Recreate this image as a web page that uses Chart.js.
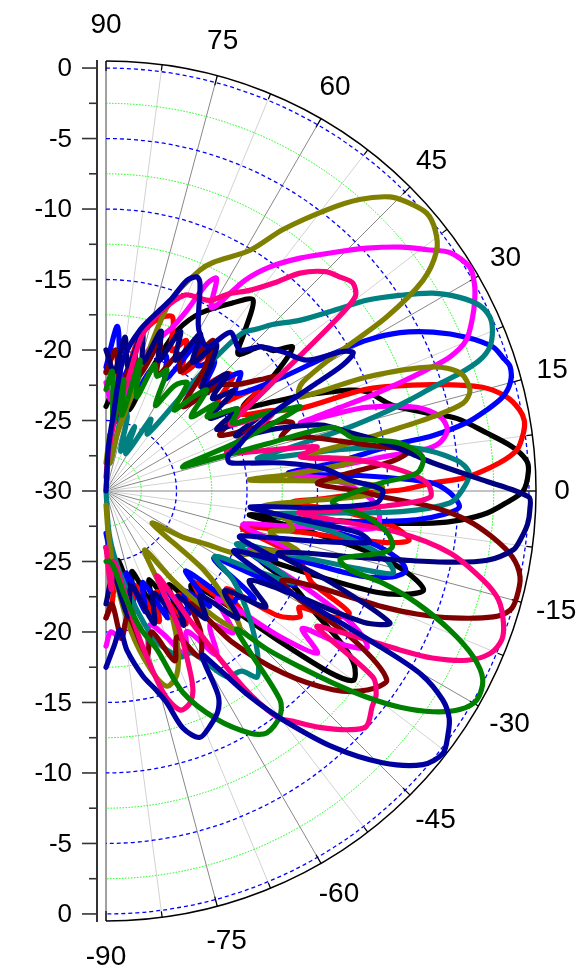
<!DOCTYPE html>
<html>
<head>
<meta charset="utf-8">
<style>
  html, body { margin: 0; padding: 0; background: #fff; }
</style>
<script src="https://cdn.jsdelivr.net/npm/chart.js@4.4.1/dist/chart.umd.min.js"></script>
</head>
<body>
<canvas id="myChart" width="588" height="970"></canvas>
<script>
// angle tick labels on the outer arc
const angleLabels = [90, 75, 60, 45, 30, 15, 0, -15, -30, -45, -60, -75, -90];

// each pattern: angles (deg) and gain (dB)
const angBlack = [90, 86, 82, 78, 74, 71, 68.7, 66, 62, 56, 52.4, 49, 46, 43, 40, 37.6, 34, 31.5, 28, 26, 22.5, 20.8, 16.7, 13.7, 11.7, 8.7, 6.2, 4.2, 2.6, 0, -1.7, -3.3, -4.7, -5.6, -6.5, -7.2, -8.2, -9.5, -11, -13, -15, -17.3, -19, -20.5, -22, -24, -27, -30, -33, -35, -37.4, -39, -41, -44, -48, -52, -56, -60, -64, -68, -72, -76, -80, -84, -90];
const dbBlack = [-24, -23, -25, -22.5, -24, -22, -20, -17.5, -15.7, -13.9, -12.9, -15, -16.5, -15, -14.5, -13.3, -16, -18.6, -16.5, -14.6, -11.3, -10.2, -8.8, -6.6, -4.6, -2.7, -1, -0.1, 0, -0.4, -1.6, -2.9, -4.8, -6.7, -9.9, -13, -16, -19.7, -16, -11, -8, -6.4, -7.5, -9.5, -14, -18, -15, -13, -10, -8.5, -7.9, -9.5, -14, -19, -21, -19, -22, -20, -23, -21, -24, -22, -25, -23, -26];

const angRed = [90, 86, 82, 78, 73.4, 69, 65, 61.8, 57, 52.8, 48, 44, 41.9, 38, 34, 30, 26, 23, 21.3, 18, 15.4, 13.2, 11.1, 9.5, 7.9, 5.7, 4.1, 2.2, 1.4, 0.2, -0.4, -2, -3.4, -5, -7, -9.2, -10.5, -12, -15, -18, -21, -24, -26.6, -29, -31, -33, -36, -39, -42, -46, -50, -55, -59, -63, -68, -73, -78, -83, -87, -90];
const dbRed = [-21.5, -20, -23, -19, -17.3, -16.8, -19, -17.9, -20, -17.4, -20, -18, -17.9, -20, -17, -19, -17, -15, -10.1, -5.6, -2.3, -0.8, -0.1, 0.1, -0.1, -0.7, -2, -4.4, -6.8, -9.1, -11.5, -14.5, -16.7, -13, -9.5, -8.2, -10, -16, -20, -17, -15, -14, -10.7, -11.5, -14, -13.6, -15, -19, -17, -21, -19, -21, -19, -22, -20, -23, -21, -24, -22, -21];

const angBlue = [90, 86, 82, 78, 74, 70, 66, 62, 58, 54, 50, 46, 41.4, 37, 33, 31.3, 30, 28.3, 25.9, 23.1, 20.4, 18.6, 17.1, 15, 13.3, 12, 10.7, 9.6, 9.2, 8.3, 7, 5.5, 3.5, 1.5, -0.3, -2.6, -4, -5.3, -7, -9, -11, -13.2, -15, -16.7, -18.5, -20, -23, -26, -29, -32, -36, -39, -41.4, -45, -48, -52, -56, -60, -64, -68, -72, -76, -80, -85, -90];
const dbBlue = [-21.2, -18.3, -22, -20, -23, -21, -19.5, -21, -17.4, -19, -18, -20, -17.3, -18.5, -15.4, -11.5, -8.6, -6.3, -4.2, -2.2, -0.7, -0.3, 0, -0.3, -1.1, -2.4, -4, -6.5, -8.9, -11.3, -13.8, -17, -12, -7, -5.6, -4.9, -6, -7.9, -12, -16, -11, -8.6, -8, -8.8, -11, -16, -19, -15, -17, -21, -17, -18, -18, -22, -19, -21, -19.5, -22, -20, -23, -21, -24, -22, -25, -27];

const angMagenta = [90, 87, 84, 80, 76, 72, 68, 65.9, 64, 62.5, 60, 56.6, 53.8, 50.2, 46.7, 42.9, 39.5, 36.9, 34.7, 31.6, 29.4, 27.5, 25.4, 22.7, 21.3, 20.7, 20.2, 19.8, 19.6, 19.3, 18.6, 17.8, 15.1, 12.5, 10.1, 8.2, 7.4, 7, 6, 5, 3, 0, -3.4, -7.6, -9, -11, -14, -18, -22, -26, -28.5, -30.9, -33, -35, -37.5, -40, -44, -48, -52, -56, -60, -64, -68, -72, -76, -80, -84, -88, -90];
const dbMagenta = [-22.3, -23.5, -21, -24, -21, -19, -17.5, -16, -13.6, -13, -15, -12.1, -10.3, -8.5, -6.8, -4.7, -2.8, -1.5, -0.3, 0.3, 0, -0.5, -1.2, -2.3, -3.8, -5.7, -7.8, -10, -12.9, -15.4, -13, -10.6, -7.2, -5.7, -5.4, -6.1, -7.3, -10.2, -13.8, -17, -14, -12, -10.7, -10.6, -13, -17, -20, -16, -19, -14, -10, -8.4, -10, -13, -11.1, -14, -19, -16.5, -18, -16, -18.5, -17, -19, -20, -18, -21, -19.5, -20, -19];

const angOlive = [90, 86, 82, 79, 76, 74, 72.5, 71, 67, 64.9, 59.1, 55.9, 51.8, 49, 46, 43.8, 40.9, 38.4, 36, 33.6, 31.8, 30.6, 29, 27.5, 25.8, 23.6, 20.8, 18.4, 15.5, 13.8, 12.8, 12, 11.1, 10, 8.5, 7, 5.3, 4.4, 2.5, 0.8, -1, -3, -6, -9, -11.8, -14, -17.7, -21.3, -24, -26, -28, -31, -35, -39, -43, -46, -49, -53, -57, -61, -65, -69, -72.7, -76, -80, -84, -87, -90];
const dbOlive = [-28, -26, -28, -26, -24, -22, -18, -15.5, -13, -12.1, -10.1, -7.6, -4.6, -2.6, -1, -0.4, 0.1, -0.2, -1, -3, -6.6, -11.3, -14, -14.6, -14.7, -9.8, -5.2, -3.5, -3.2, -3.9, -6.2, -9.2, -12.4, -15.5, -14, -11.9, -16.2, -19.8, -14, -10.4, -11.5, -16, -19, -17, -16.5, -18, -15.6, -18.5, -19, -20, -22, -23.6, -26, -21, -18, -16.3, -18, -22, -25, -21, -18, -16, -15.5, -17, -20, -24, -27, -29];

const angTeal = [90, 86, 82, 78, 74, 70, 66, 62, 58, 54, 51.5, 50.5, 49.2, 47, 45, 41.4, 38, 36.2, 33.7, 31.2, 28.7, 26.4, 24.4, 22.6, 20.6, 19.3, 18.4, 17.6, 16.7, 15.7, 14.7, 13.5, 12, 10, 8, 5, 2.8, 0.2, -2, -4, -6, -8, -10, -13, -15.9, -17, -19, -22, -24.5, -26.2, -28, -31, -35, -40, -45, -49, -51, -53, -57, -62, -66, -72, -78, -82, -86, -90];
const dbTeal = [-30, -26, -28, -24, -24.5, -27, -25, -27, -24, -25, -21, -17.5, -15.2, -14.3, -13.3, -11.7, -9, -7.1, -5, -2.9, -1.4, -0.4, -0.1, -0.3, -0.9, -1.9, -3.5, -5.7, -7.5, -9.6, -12.1, -16, -19, -13, -8, -5, -4.2, -4.7, -5.6, -9, -15, -18, -14, -10, -8.8, -11, -16, -20, -17, -15.2, -18, -21, -19, -17, -15, -13.5, -13, -14, -14.3, -17, -17.1, -19, -22.8, -25, -27, -30];

const angNavy = [90, 86, 83, 80, 77, 74, 71, 68, 65, 62, 59, 56, 53, 50, 47, 44, 41, 38, 35, 32, 29, 26, 23, 20, 17, 14, 11.5, 9.2, 7, 4.9, 1.7, -0.8, -2.6, -4.5, -6.7, -8.2, -10.3, -11.7, -13.2, -15.1, -17.7, -20, -22, -24.9, -27, -29, -32, -36, -40, -44, -48, -52, -56, -60, -65, -70, -75, -80, -85, -90];
const dbNavy = [-20, -21.5, -19, -21, -18.5, -20.5, -18, -20, -17.5, -19.5, -17, -19, -17, -18.5, -20, -18, -20, -18.5, -21, -19, -21, -18, -20, -17, -14, -12.5, -11, -9.6, -8.2, -6.7, -3.3, 0, 0.1, 0, -0.4, -0.8, -2.5, -5.1, -8.6, -12.1, -15.6, -17, -13, -7.8, -9.5, -15, -18, -16, -19, -17, -20, -18.5, -21, -19, -22, -20, -23, -21, -24, -22];

const angWine = [90, 86, 82, 78, 74, 70, 66, 62, 58, 54.7, 51, 47.5, 43, 39, 35.8, 33.7, 30, 26, 22, 20, 17, 15, 12, 9, 7.7, 6, 4, 2, 0, -1.2, -2.8, -4.6, -6.8, -9.2, -11.7, -14.5, -16.4, -18, -20.1, -21.6, -22.7, -23.5, -24.5, -27, -29.3, -31, -33.9, -37.3, -41.2, -45.8, -50.1, -53, -56, -60.5, -64, -68, -72, -76, -80, -84, -87, -90];
const dbWine = [-21.6, -20, -22.5, -20.5, -21.5, -18.8, -21, -19, -20, -16.9, -19, -21.9, -19, -18, -16.5, -15.4, -19, -21, -17, -15.9, -17, -15.2, -13, -10, -8.2, -9.5, -13, -15, -12, -10.4, -6.8, -4.3, -2.4, -0.8, 0, 0.1, -0.1, -1.1, -3.8, -6.3, -8.7, -11.1, -13.6, -16, -14.2, -9.5, -6, -6.7, -8.6, -12, -16, -20, -18, -16.5, -18.5, -17, -19.5, -18, -21, -19.5, -22, -21];

const angPink = [90, 86, 82, 79, 76.8, 72.5, 68, 64, 61.4, 58, 54.4, 51, 48.3, 45, 42.4, 40.1, 37.9, 36.5, 35, 33, 31, 28, 25, 22, 18, 14, 11.8, 10, 7, 4, 1.4, -1.1, -3, -5, -6.5, -8.1, -10.2, -13.3, -15.5, -18.3, -20.6, -22.9, -25.1, -27.1, -28.4, -29.7, -31.5, -32.8, -34.9, -37, -39, -42.1, -44.4, -47.9, -51, -52.9, -55, -57, -59, -62, -64.9, -66.4, -68.5, -71.3, -74, -77, -80, -84, -87, -90];
const dbPink = [-29, -27, -24, -22.2, -18.5, -16.5, -15, -14.8, -14.6, -13.5, -12.5, -11, -9.3, -8, -7.5, -7.1, -7.6, -10, -13, -16, -18, -20, -17, -19, -21, -18, -14.7, -16, -12, -9, -7.2, -7, -10, -14, -16.2, -9, -5.2, -2.5, -1.1, -0.3, 0, -0.4, -1.7, -4, -6.3, -8.7, -11.1, -12.2, -6.9, -6, -5.7, -5.1, -5.8, -7.4, -9, -9.9, -13, -19, -23, -19, -16, -14.6, -13.8, -13.6, -15, -19, -23, -25, -23, -26];

const angGreen = [90, 87, 84, 81, 78, 75.5, 72, 69, 66, 63.2, 60, 57, 53.1, 50, 47.2, 45, 41, 38.4, 36.2, 32, 28.2, 26, 24.6, 23.4, 20.5, 18.5, 17.3, 16.3, 15.7, 12, 9.3, 6.1, 3.3, 1.7, -0.5, -3, -5.7, -8.5, -11, -12.6, -15.1, -16.4, -17.9, -18.4, -19.8, -22, -24.3, -26.6, -29.4, -31.7, -34, -36.3, -38.3, -40.2, -42.2, -44.5, -46.5, -48, -50.2, -52.4, -56.4, -59.2, -64.1, -69.1, -72.2, -76, -80, -84, -87, -90];
const dbGreen = [-22.8, -21.5, -25, -22, -24.5, -20.4, -23, -20.4, -21.1, -20.4, -23, -21.1, -20.4, -22.5, -20.9, -19.9, -22, -20, -21.1, -19, -19.8, -17.5, -16.2, -15, -20, -24, -24.3, -18, -13.3, -12, -8.9, -7.4, -7.9, -10.4, -12.5, -13.9, -11.4, -9.8, -9.3, -9.9, -12.1, -12.7, -11.8, -9.3, -6.6, -3.7, -1.4, -0.1, 0.2, -0.5, -2, -4.1, -6.4, -8.9, -11.4, -14, -16.5, -15, -10.7, -9.8, -9.4, -10, -12, -14.7, -18.2, -20, -22.5, -24.5, -25, -25];

const angRoyal = [90, 87, 84.6, 82.6, 78, 73.4, 71, 69, 67, 65.7, 63, 61, 59.2, 54.9, 51.9, 46.5, 43, 38, 33.1, 30.5, 29.2, 28, 27, 25, 22, 19, 16, 13, 11, 9, 6, 2.6, 0.2, -2.5, -4.5, -6.3, -8, -9.4, -11, -13, -16, -19, -22, -25, -27.5, -29, -29.3, -29.6, -30.2, -31.8, -33.5, -35.5, -37.9, -40.8, -44.5, -48.4, -52.3, -55, -57.8, -59.7, -61.2, -63, -66, -69.2, -72, -74, -76, -78.7, -82.5, -84.2, -87, -90];
const dbRoyal = [-30, -27, -24.7, -20.6, -18.3, -16.6, -15.5, -14, -13.5, -13.8, -15.5, -16.5, -17, -17.5, -15.7, -16.2, -15, -14, -13, -10.5, -9.9, -11, -13.5, -17, -19, -20, -21, -21, -19.6, -17.3, -14.5, -12.7, -10.4, -10.8, -15, -19.7, -17, -11.8, -11, -14, -18, -20, -17, -20, -18, -14, -11, -7.5, -4.1, -1.9, -0.8, -0.2, 0.3, -0.3, -2.5, -5.7, -9.5, -12.2, -15.2, -16.5, -13.5, -12.5, -11.8, -11.3, -12.3, -14.4, -15.5, -16.6, -18.6, -20.1, -19, -17.5];

const FONT = '"Liberation Sans", Arial, sans-serif';
Chart.defaults.font.family = FONT;

// polar (angle, dB) -> x/y in dB units above the -30 dB centre
function toPoints(ang, db) {
  return ang.map(function (a, i) {
    const r = Math.max(db[i] + 30, 0);
    const t = a * Math.PI / 180;
    return { x: r * Math.cos(t), y: r * Math.sin(t) };
  });
}

function line(ang, db, color) {
  return {
    data: toPoints(ang, db),
    borderColor: color,
    borderWidth: 5.2,
    showLine: true,
    fill: false,
    tension: 0.3,
    pointRadius: 0,
    borderJoinStyle: 'round',
    borderCapStyle: 'round'
  };
}

// first dataset is drawn on top
const datasets = [
  line(angRoyal, dbRoyal, '#0000a0'),
  line(angGreen, dbGreen, '#008000'),
  line(angPink, dbPink, '#ff0080'),
  line(angNavy, dbNavy, '#000080'),
  line(angWine, dbWine, '#800000'),
  line(angOlive, dbOlive, '#808000'),
  line(angTeal, dbTeal, '#008080'),
  line(angMagenta, dbMagenta, '#ff00ff'),
  line(angBlue, dbBlue, '#0000ff'),
  line(angRed, dbRed, '#ff0000'),
  line(angBlack, dbBlack, '#000000')
];

const polarGrid = {
  id: 'polarGrid',
  beforeDatasetsDraw(chart) {
    const { ctx, scales: { x, y } } = chart;
    const cx = x.getPixelForValue(0);
    const cy = y.getPixelForValue(0);
    const k = y.getPixelForValue(0) - y.getPixelForValue(1);
    const R = 30.5 * k;
    ctx.save();

    // spokes
    for (let a = -90; a <= 90; a += 7.5) {
      const t = a * Math.PI / 180;
      const major = a % 15 === 0;
      ctx.beginPath();
      ctx.strokeStyle = Math.abs(a) === 90 ? '#a0a0a0' : (major ? '#888888' : '#d2d2d2');
      ctx.lineWidth = Math.abs(a) === 90 ? 2 : 1;
      ctx.moveTo(cx, cy);
      ctx.lineTo(cx + R * Math.cos(t), cy - R * Math.sin(t));
      ctx.stroke();
    }

    // rings: blue dashed every 5 dB, green dotted in between
    for (let d = 2.5; d < 30.5; d += 2.5) {
      const blue = d % 5 === 0;
      ctx.beginPath();
      ctx.setLineDash(blue ? [4, 3] : [1.5, 1.5]);
      ctx.strokeStyle = blue ? '#0000ff' : '#00ff00';
      ctx.lineWidth = blue ? 1.3 : 1;
      ctx.arc(cx, cy, d * k, -Math.PI / 2, Math.PI / 2);
      ctx.stroke();
    }
    ctx.setLineDash([]);

    // outer arc + ticks
    ctx.strokeStyle = '#000';
    ctx.lineWidth = 1.5;
    ctx.beginPath();
    ctx.arc(cx, cy, R, -Math.PI / 2, Math.PI / 2);
    ctx.stroke();
    ctx.lineWidth = 1.2;
    for (let a = -90; a <= 90; a += 7.5) {
      const t = a * Math.PI / 180;
      const len = a % 15 === 0 ? 10 : 6;
      ctx.beginPath();
      ctx.moveTo(cx + R * Math.cos(t), cy - R * Math.sin(t));
      ctx.lineTo(cx + (R - len) * Math.cos(t), cy - (R - len) * Math.sin(t));
      ctx.stroke();
    }

    // angle labels
    ctx.fillStyle = '#000';
    ctx.font = '28px ' + FONT;
    ctx.textAlign = 'center';
    ctx.textBaseline = 'middle';
    angleLabels.forEach(function (a) {
      const t = a * Math.PI / 180;
      const rr = a === 0 ? 456 : 466;
      const shift = (a > 0 && a < 90) ? -4 : 0;
      ctx.fillText(String(a), cx + rr * Math.cos(t) + shift, cy - rr * Math.sin(t));
    });
    ctx.restore();
  },
  afterDraw(chart) {
    const { ctx, chartArea, scales: { y } } = chart;
    const ax = chartArea.left;
    ctx.save();
    // major / minor tick marks on the dB axis
    ctx.strokeStyle = '#333';
    ctx.lineWidth = 1.6;
    for (let v = -30; v <= 30; v += 2.5) {
      const py = y.getPixelForValue(v);
      const len = v % 5 === 0 ? 15 : 8;
      ctx.beginPath();
      ctx.moveTo(ax - len, py);
      ctx.lineTo(ax, py);
      ctx.stroke();
    }
    // dB labels from the scale's own ticks
    ctx.fillStyle = '#000';
    ctx.font = '26px ' + FONT;
    ctx.textAlign = 'right';
    ctx.textBaseline = 'middle';
    y.ticks.forEach(function (t) {
      ctx.fillText(String(Math.abs(t.value) - 30), ax - 25, y.getPixelForValue(t.value) + 1);
    });
    ctx.restore();
  }
};

const ctx = document.getElementById('myChart');

new Chart(ctx, {
  type: 'scatter',
  data: { datasets: datasets },
  options: {
    responsive: false,
    animation: false,
    events: [],
    layout: { padding: { top: 61, bottom: 49, left: 0, right: 31 } },
    plugins: {
      legend: { display: false },
      tooltip: { enabled: false }
    },
    scales: {
      x: { type: 'linear', display: false, min: -0.64, max: 32 },
      y: {
        type: 'linear',
        min: -30.5,
        max: 30.5,
        afterFit: function (scale) { scale.width = 97; },
        grid: { display: false, drawTicks: false },
        border: { display: true, color: '#333', width: 2 },
        ticks: {
          display: false,
          stepSize: 5,
          includeBounds: false,
          autoSkip: false
        }
      }
    }
  },
  plugins: [polarGrid]
});
</script>
</body>
</html>
